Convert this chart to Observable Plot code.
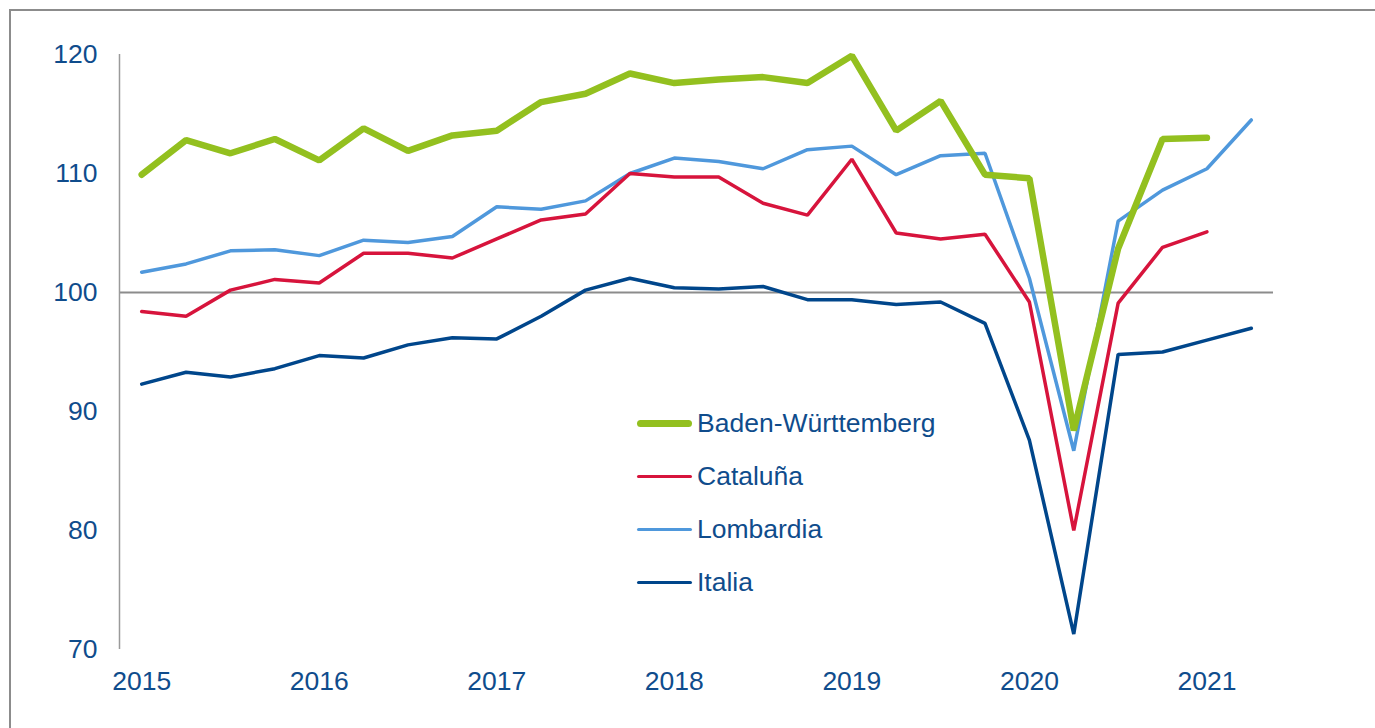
<!DOCTYPE html>
<html>
<head>
<meta charset="utf-8">
<script src="https://cdn.jsdelivr.net/npm/d3@7"></script>
<script src="https://cdn.jsdelivr.net/npm/@observablehq/plot@0.6"></script>
<style>
  html, body { margin: 0; padding: 0; overflow: hidden; background: #fff; width: 1375px; height: 728px; }
  #frame { position: absolute; left: 9px; top: 9px; width: 1400px; height: 760px; border: 2px solid #8c8c8c; box-sizing: border-box; }
  #chart { position: absolute; left: 0; top: 0; }
  #legend { position: absolute; left: 637px; top: 397px; font-family: "Liberation Sans", Arial, sans-serif; font-size: 26.5px; color: #0f4c8c; }
  .row { display: flex; align-items: center; height: 53px; }
  .sw { width: 55px; border-radius: 4px; margin-right: 5px; }
</style>
</head>
<body>
<div id="frame"></div>
<div id="chart"></div>
<div id="legend"></div>
<script>
// Quarters 2015 Q1 .. 2021 Q2
const quarters = [
  "2015-Q1","2015-Q2","2015-Q3","2015-Q4",
  "2016-Q1","2016-Q2","2016-Q3","2016-Q4",
  "2017-Q1","2017-Q2","2017-Q3","2017-Q4",
  "2018-Q1","2018-Q2","2018-Q3","2018-Q4",
  "2019-Q1","2019-Q2","2019-Q3","2019-Q4",
  "2020-Q1","2020-Q2","2020-Q3","2020-Q4",
  "2021-Q1","2021-Q2"
];
const yearTicks = ["2015-Q1","2016-Q1","2017-Q1","2018-Q1","2019-Q1","2020-Q1","2021-Q1"];
const yTicks = [70, 80, 90, 100, 110, 120];

const seriesNames = ["Baden-Württemberg", "Cataluña", "Lombardia", "Italia"];
const seriesColors = ["#93c01f", "#d7143c", "#4f98dc", "#00468b"];
const seriesWidths = [6.5, 3.5, 3.5, 3.5];

const badenWuerttemberg = [109.9, 112.8, 111.7, 112.9, 111.1, 113.8, 111.9, 113.2, 113.6, 116.0, 116.7, 118.4,
  117.6, 117.9, 118.1, 117.6, 119.9, 113.6, 116.1, 109.9, 109.6, 88.4, 103.7, 112.9, 113.0];
const cataluna = [98.4, 98.0, 100.2, 101.1, 100.8, 103.3, 103.3, 102.9, 104.5, 106.1, 106.6, 110.0,
  109.7, 109.7, 107.5, 106.5, 111.2, 105.0, 104.5, 104.9, 99.2, 80.0, 99.1, 103.8, 105.1];
const lombardia = [101.7, 102.4, 103.5, 103.6, 103.1, 104.4, 104.2, 104.7, 107.2, 107.0, 107.7, 110.0,
  111.3, 111.0, 110.4, 112.0, 112.3, 109.9, 111.5, 111.7, 101.2, 86.7, 106.0, 108.6, 110.4, 114.5];
const italia = [92.3, 93.3, 92.9, 93.6, 94.7, 94.5, 95.6, 96.2, 96.1, 98.0, 100.2, 101.2,
  100.4, 100.3, 100.5, 99.4, 99.4, 99.0, 99.2, 97.4, 87.6, 71.3, 94.8, 95.0, 96.0, 97.0];

const seriesValues = [badenWuerttemberg, cataluna, lombardia, italia];

// Build tidy rows
const rows = [];
seriesNames.forEach((name, s) => {
  seriesValues[s].forEach((v, i) => rows.push({series: name, quarter: quarters[i], value: v}));
});

const textColor = "#0f4c8c";
const drawOrder = ["Italia", "Lombardia", "Cataluña", "Baden-Württemberg"];

const plot = Plot.plot({
  width: 1375,
  height: 728,
  marginLeft: 119,
  marginRight: 102,
  marginTop: 54,
  marginBottom: 79,
  style: {fontFamily: "'Liberation Sans', Arial, sans-serif", fontSize: "26.5px", color: textColor, background: "transparent"},
  x: {type: "point", domain: quarters, padding: 0.5, round: false},
  y: {domain: [70, 120]},
  marks: [
    Plot.ruleY([100], {stroke: "#8c8c8c", strokeWidth: 2}),
    Plot.ruleX([quarters[0]], {y1: 70, y2: 120, stroke: "#9a9a9a", strokeWidth: 1.5, dx: -22.2}),
    Plot.axisY({ticks: yTicks, tickSize: 0, tickPadding: 22, label: null, fill: textColor, fontSize: 26.5}),
    Plot.axisX({ticks: yearTicks, tickSize: 0, tickPadding: 22, label: null, fill: textColor, fontSize: 26.5,
      tickFormat: d => d.slice(0, 4)}),
    ...drawOrder.map(name => {
      const s = seriesNames.indexOf(name);
      return Plot.line(rows.filter(r => r.series === name), {
        x: "quarter", y: "value",
        stroke: seriesColors[s], strokeWidth: seriesWidths[s],
        strokeLinejoin: "miter", strokeLinecap: "round"
      });
    })
  ]
});
document.getElementById("chart").appendChild(plot);

// Legend
const legend = document.getElementById("legend");
seriesNames.forEach((name, s) => {
  const row = document.createElement("div");
  row.className = "row";
  const sw = document.createElement("div");
  sw.className = "sw";
  sw.style.height = seriesWidths[s] + "px";
  sw.style.background = seriesColors[s];
  const label = document.createElement("span");
  label.textContent = name;
  row.appendChild(sw);
  row.appendChild(label);
  legend.appendChild(row);
});
</script>
</body>
</html>
